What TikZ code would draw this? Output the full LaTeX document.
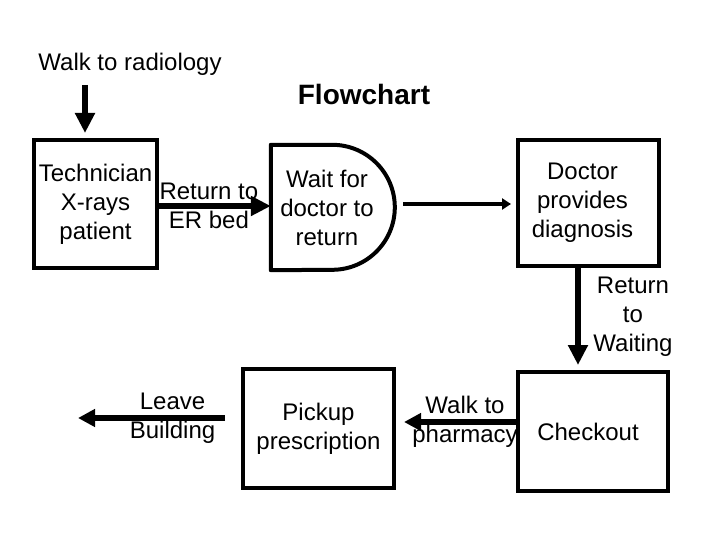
\documentclass[tikz,border=0pt]{standalone}
\usepackage{fontspec}
\setmainfont{Liberation Sans}
\usetikzlibrary{arrows.meta,calc}

\begin{document}
\begin{tikzpicture}[x=1pt, y=-1pt,
	txt/.style={font=\fontsize{24}{29}\selectfont, align=center, inner sep=0pt},
	stepbox/.style={txt, draw, line width=4pt, minimum width=#1},
	bigarrow/.style={line width=6.5pt, -{Triangle[length=20pt,width=19pt]}},
	thinarrow/.style={line width=3.5pt, -{Triangle[length=9pt,width=11pt]}}]
	
	\useasboundingbox (0,0) rectangle (720,540);
	
	% ----- top row
	\node[txt] (radiology) at (130,64) {Walk to radiology};
	\node[txt, font=\fontsize{28}{34}\selectfont\bfseries] (title) at (364,94) {Flowchart};
	
	\node[stepbox=123pt, minimum height=128pt] (tech) at (95.5,204)
	{Technician\\X-rays\\patient};
	
	% delay shape drawn by hand round the node
	\node[txt, minimum width=124pt, minimum height=125pt] (wait) at (333,207.5)
	{\hspace*{-12pt}Wait for\\\hspace*{-12pt}doctor to\\\hspace*{-12pt}return};
	\draw[line width=4pt, line join=round]
	(wait.south west) -- (wait.north west) -- ++(61.5,0)
	arc[start angle=-90, end angle=90, radius=62.5] -- cycle;
	
	\node[stepbox=141pt, minimum height=126pt] (doctor) at (588.5,203)
	{\hspace*{-12pt}Doctor\\\hspace*{-12pt}provides\\\hspace*{-12pt}diagnosis};
	
	% ----- bottom row
	\node[stepbox=150pt, minimum height=119pt] (checkout) at (593,431.5)
	{\hspace*{-10pt}Checkout};
	\node[stepbox=151pt, minimum height=119pt] (pickup) at (318.5,428.5)
	{Pickup\\prescription};
	
	% free ends
	\coordinate (start) at (85,85);
	\coordinate (exit) at (78,418);
	
	% ----- connectors
	\draw[bigarrow, shorten >=5pt] (start) -- (start |- tech.north);
	\draw[bigarrow] ([yshift=-2pt]tech.east) -- ([yshift=-2pt]tech.east -| wait.west)
	node[txt, midway, xshift=-6pt] (ret) {Return to\\ER bed};
	\draw[thinarrow, shorten <=8pt, shorten >=5pt]
	([yshift=3.5pt]wait.east) -- ([yshift=3.5pt]wait.east -| doctor.west);
	\draw[bigarrow, shorten >=5pt] ([xshift=-10.5pt]doctor.south) -- ([xshift=-10.5pt]doctor.south |- checkout.north)
	node[txt, midway, xshift=55pt, yshift=2pt] (back) {Return\\to\\Waiting};
	\draw[bigarrow, line width=5.5pt, -{Triangle[length=17pt,width=17pt]}, shorten >=8pt]
	([yshift=9.5pt]checkout.west) -- ([yshift=9.5pt]checkout.west -| pickup.east)
	node[txt, midway, xshift=9pt] (pharm) {Walk to\\pharmacy};
	\draw[bigarrow, line width=5.5pt, -{Triangle[length=17pt,width=17pt]}, shorten <=16pt]
	([yshift=10.5pt]pickup.west) -- (exit)
	node[txt, pos=0.42] (leave) {Leave\\Building};
	
\end{tikzpicture}
\end{document}
